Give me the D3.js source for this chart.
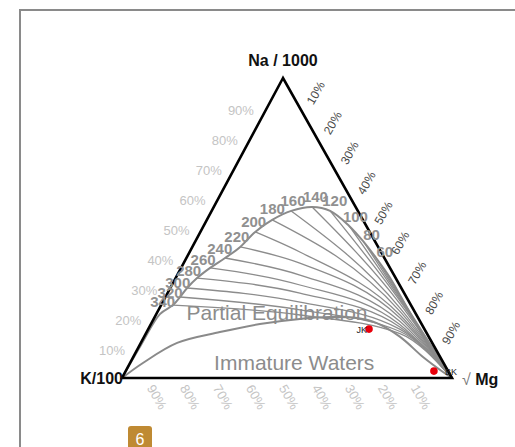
<!DOCTYPE html>
<html>
<head>
<meta charset="utf-8">
<script src="https://cdn.jsdelivr.net/npm/d3@7"></script>
<style>
  html, body { margin:0; padding:0; background:#fff; }
  svg { display:block; font-family:"Liberation Sans", Arial, sans-serif; }
</style>
</head>
<body>
<div id="chart-container"></div>
<script>
// -------------------- DATA --------------------
// ternary values in % : Na/1000 (top), K/100 (left), sqrt Mg (right); K = 100 - Na - Mg
const eqTemps = [340,320,300,280,260,240,220,200,180,160,140,120,100,80,60];
const eqNa = [24.3,27.0,30.0,33.3,36.7,40.0,43.7,48.7,52.7,55.7,57.0,55.7,50.7,45.3,40.0];
const eqMg = [3.6,4.4,5.1,6.5,8.8,11.7,14.5,16.6,19.8,24.1,29.8,35.9,44.1,51.2,57.5];

// full equilibrium line beyond the labelled temperatures
const eqStartNa = [0,11.0,21.3];
const eqStartMg = [0,0.4,1.1];
const eqEndNa = [34.0,27.0,19.3,11.7,4.7,0];
const eqEndMg = [64.3,71.4,79.1,86.7,94.1,100];

// partial equilibration lines, eq point -> bends -> Mg corner
const tieMidNa = [21.0,22.7,25.3,28.3,31.0,34.3,38.3,42.0,null,null,null,null,null,null,null];
const tieMidMg = [43.7,42.9,41.6,40.1,38.8,37.2,35.2,33.4,null,null,null,null,null,null,null];
const tieBendNa = [14.8,15.5,16.2,17.0,17.8,18.8,20.0,21.0,22.2,23.3,24.7,25.7,26.3,26.8,27.2];
const tieBendMg = [77.0,76.7,76.4,75.9,75.5,75.1,74.5,74.0,73.4,72.9,72.2,71.7,71.4,71.2,71.0];

// immature waters boundary
const immNa = [0,5.0,11.7,15.3,18.0,19.7,20.3,20.0,18.3,13.7,7.0,2.0,0];
const immMg = [0,3.9,11.0,22.2,33.0,44.3,53.1,61.5,68.3,77.6,87.8,96.3,100];

const sampleNames = ["JK","BK"];
const sampleNa = [16.3,2.3];
const sampleMg = [66.9,93.4];

const regionNames = ["Partial Equilibration","Immature Waters"];
const regionNa = [21.7,5.3];
const regionMg = [36.4,49.6];

const tickPct = [10,20,30,40,50,60,70,80,90];

// -------------------- LAYOUT --------------------
const W = 515, H = 447;
const apex = { x:283, y:78 }, left = { x:122, y:378 }, right = { x:452, y:378 };

const yNa = d3.scaleLinear().domain([0,100]).range([left.y, apex.y]);
const xMg = d3.scaleLinear().domain([0,100]).range([left.x, right.x]);
const xLean = d3.scaleLinear().domain([0,100]).range([0, apex.x - left.x]);

function project(na, mg) {
  return [xMg(mg) + xLean(na), yNa(na)];
}

const svg = d3.select("#chart-container")
  .append("svg")
  .attr("width", W)
  .attr("height", H);

// page frame
svg.append("rect")
  .attr("x", 20).attr("y", 10)
  .attr("width", 600).attr("height", 600)
  .attr("fill", "#fff")
  .attr("stroke", "#8a8a8a")
  .attr("stroke-width", 2);

const tieLine = d3.line()
  .x(d => d[0])
  .y(d => d[1])
  .curve(d3.curveMonotoneX);

const smoothLine = d3.line()
  .x(d => d[0])
  .y(d => d[1])
  .curve(d3.curveCatmullRom.alpha(0.5));

// partial equilibration lines
eqTemps.forEach((t, i) => {
  let pts = [project(eqNa[i], eqMg[i])];
  if (tieMidNa[i] != null) pts.push(project(tieMidNa[i], tieMidMg[i]));
  pts.push(project(tieBendNa[i], tieBendMg[i]));
  pts.push(project(0, 100));
  svg.append("path")
    .attr("d", tieLine(pts))
    .attr("fill", "none")
    .attr("stroke", "#8c8c8c")
    .attr("stroke-width", 1.3);
});

// full equilibrium line
const eqPts = []
  .concat(eqStartNa.map((n, i) => project(n, eqStartMg[i])))
  .concat(eqNa.map((n, i) => project(n, eqMg[i])))
  .concat(eqEndNa.map((n, i) => project(n, eqEndMg[i])));

svg.append("path")
  .attr("d", smoothLine(eqPts))
  .attr("fill", "none")
  .attr("stroke", "#8a8a8a")
  .attr("stroke-width", 2);

// immature waters line
svg.append("path")
  .attr("d", smoothLine(immNa.map((n, i) => project(n, immMg[i]))))
  .attr("fill", "none")
  .attr("stroke", "#8a8a8a")
  .attr("stroke-width", 2);

// triangle
svg.append("path")
  .attr("d", d3.line()([project(100,0), project(0,0), project(0,100)]) + "Z")
  .attr("fill", "none")
  .attr("stroke", "#000")
  .attr("stroke-width", 2.6)
  .attr("stroke-linejoin", "miter");

// temperature labels, pushed outward from the curve
const labelCenter = [270, 340];
eqTemps.forEach((t, i) => {
  const p = project(eqNa[i], eqMg[i]);
  const dx = p[0] - labelCenter[0], dy = p[1] - labelCenter[1];
  const len = Math.sqrt(dx*dx + dy*dy);
  svg.append("text")
    .attr("x", p[0] + dx / len * 11)
    .attr("y", p[1] + dy / len * 11)
    .attr("text-anchor", "middle")
    .attr("dominant-baseline", "central")
    .attr("font-size", 15)
    .attr("font-weight", "bold")
    .attr("fill", "#909090")
    .text(t);
});

// region labels
regionNames.forEach((name, i) => {
  const p = project(regionNa[i], regionMg[i]);
  svg.append("text")
    .attr("x", p[0]).attr("y", p[1])
    .attr("text-anchor", "middle")
    .attr("dominant-baseline", "central")
    .attr("font-size", 21)
    .attr("fill", "#8c8c8c")
    .text(name);
});

// axis tick labels
tickPct.forEach(pct => {
  // Na % on the left edge
  const a = project(pct, 0);
  svg.append("text")
    .attr("x", a[0] - 26).attr("y", a[1] + 2)
    .attr("text-anchor", "middle")
    .attr("dominant-baseline", "central")
    .attr("font-size", 13)
    .attr("fill", "#c4c4c4")
    .text(pct + "%");

  // Mg % on the right edge
  const b = project(100 - pct, pct);
  svg.append("text")
    .attr("transform", `translate(${b[0] + 16},${b[1] - 15}) rotate(-60)`)
    .attr("text-anchor", "middle")
    .attr("dominant-baseline", "central")
    .attr("font-size", 12)
    .attr("fill", "#4a4a4a")
    .text(pct + "%");

  // K % on the base
  const c = project(0, 100 - pct);
  svg.append("text")
    .attr("transform", `translate(${c[0] + 2},${c[1] + 19}) rotate(60)`)
    .attr("text-anchor", "middle")
    .attr("dominant-baseline", "central")
    .attr("font-size", 13)
    .attr("fill", "#c4c4c4")
    .text(pct + "%");
});

// samples
const sampleDx = [-2, 11];
sampleNames.forEach((name, i) => {
  const p = project(sampleNa[i], sampleMg[i]);
  svg.append("circle")
    .attr("cx", p[0]).attr("cy", p[1])
    .attr("r", 3.8)
    .attr("fill", "#e8000b");
  svg.append("text")
    .attr("x", p[0] + sampleDx[i]).attr("y", p[1] + 1)
    .attr("text-anchor", sampleDx[i] < 0 ? "end" : "start")
    .attr("dominant-baseline", "central")
    .attr("font-size", 9)
    .attr("fill", "#222")
    .text(name);
});

// corner labels
svg.append("text")
  .attr("x", apex.x).attr("y", 66)
  .attr("text-anchor", "middle")
  .attr("font-size", 16)
  .attr("font-weight", "bold")
  .attr("fill", "#111")
  .text("Na / 1000");

svg.append("text")
  .attr("x", left.x + 1).attr("y", 384)
  .attr("text-anchor", "end")
  .attr("font-size", 16)
  .attr("font-weight", "bold")
  .attr("fill", "#111")
  .text("K/100");

const mgLabel = svg.append("text")
  .attr("x", right.x + 10).attr("y", 385)
  .attr("font-size", 16)
  .attr("fill", "#111");
mgLabel.append("tspan").attr("fill", "#777").text("√ ");
mgLabel.append("tspan").attr("font-weight", "bold").text("Mg");

// page badge
svg.append("rect")
  .attr("x", 128).attr("y", 426)
  .attr("width", 24).attr("height", 30)
  .attr("rx", 3)
  .attr("fill", "#bf8a33");
svg.append("text")
  .attr("x", 140).attr("y", 445)
  .attr("text-anchor", "middle")
  .attr("font-size", 16)
  .attr("fill", "#fff")
  .text("6");
</script>
</body>
</html>
